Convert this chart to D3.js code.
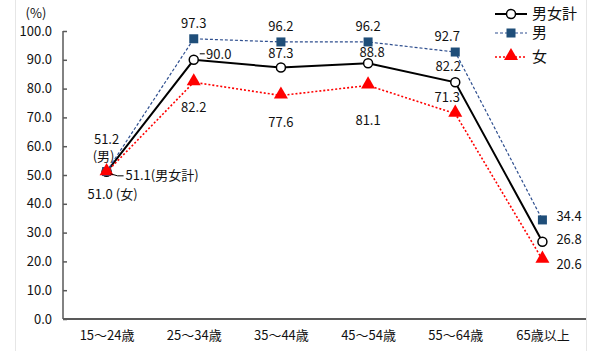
<!DOCTYPE html>
<html>
<head>
<meta charset="utf-8">
<script src="https://cdn.jsdelivr.net/npm/d3@7"></script>
<style>
  body { margin: 0; background: #fff; }
  svg text { font-family: "Noto Sans CJK JP", "DejaVu Sans", sans-serif; fill: #111; }
</style>
</head>
<body>
<div id="chart"></div>
<script>
// Data
const categories = ["15～24歳", "25～34歳", "35～44歳", "45～54歳", "55～64歳", "65歳以上"];
const totalValues = [51.1, 90.0, 87.3, 88.8, 82.2, 26.8];
const maleValues = [51.2, 97.3, 96.2, 96.2, 92.7, 34.4];
const femaleValues = [51.0, 82.2, 77.6, 81.1, 71.3, 20.6];
const yTicks = [0, 10, 20, 30, 40, 50, 60, 70, 80, 90, 100];
const seriesNames = ["男女計", "男", "女"];

const width = 604, height = 351;
const plotLeft = 63, plotRight = 586, plotTop = 31, plotBottom = 319;

const svg = d3.select("#chart").append("svg")
    .attr("width", width)
    .attr("height", height);

// faint chart-area border lines
svg.append("line").attr("x1", 15.5).attr("x2", 15.5).attr("y1", 0).attr("y2", height)
    .style("stroke", "#e6e6e6");
svg.append("line").attr("x1", 586.5).attr("x2", 586.5).attr("y1", 0).attr("y2", height)
    .style("stroke", "#e6e6e6");

const x = d3.scalePoint().domain(categories).range([plotLeft, plotRight]).padding(0.5);
const y = d3.scaleLinear().domain([0, 100]).range([plotBottom, plotTop]);

// y axis
const yAxis = svg.append("g")
    .attr("transform", `translate(${plotLeft},0)`)
    .call(d3.axisLeft(y).tickValues(yTicks).tickSize(-4).tickPadding(11).tickFormat(d3.format(".1f")));
yAxis.selectAll("path, line").style("stroke", "#595959").style("stroke-width", 1.5);
yAxis.select("path").attr("d", `M0,${plotTop}V${plotBottom}`);
yAxis.selectAll("text").style("font-size", "13px").style("fill", "#111");

// x axis
const xAxis = svg.append("g")
    .attr("transform", `translate(0,${plotBottom})`)
    .call(d3.axisBottom(x).tickSize(0).tickPadding(12));
xAxis.select("path").attr("d", `M${plotLeft},0H${plotRight}`).style("stroke", "#595959").style("stroke-width", 2);
xAxis.selectAll("text").style("font-size", "13px").style("fill", "#111");

svg.append("text").attr("x", 36).attr("y", 18).attr("text-anchor", "middle")
    .style("font-size", "13px").text("(%)");

const line = d3.line().x((d, i) => x(categories[i])).y(d => y(d));

const styles = [
  { values: totalValues, color: "#000", width: 2, dash: null },
  { values: maleValues, color: "#2f4f8f", width: 1.2, dash: "3,2" },
  { values: femaleValues, color: "#ff0000", width: 1.6, dash: "2,2" }
];

function marker(g, k) {
  if (k === 0) {
    g.append("circle").attr("r", 4.5).style("fill", "#fff").style("stroke", "#000").style("stroke-width", 1.5);
  } else if (k === 1) {
    g.append("rect").attr("x", -4.5).attr("y", -4.5).attr("width", 9).attr("height", 9).style("fill", "#1f4e79");
  } else {
    g.append("path").attr("d", d3.symbol().type(d3.symbolTriangle).size(85)()).attr("transform", "translate(0,-1)")
        .style("fill", "#ff0000");
  }
}

// series drawn in order: total, male, female
[0, 1, 2].forEach(k => {
  const s = styles[k];
  svg.append("path")
      .attr("d", line(s.values))
      .style("fill", "none")
      .style("stroke", s.color)
      .style("stroke-width", s.width)
      .style("stroke-dasharray", s.dash);
  s.values.forEach((v, i) => {
    const g = svg.append("g").attr("transform", `translate(${x(categories[i])},${y(v)})`);
    marker(g, k);
  });
});

// data labels: [dx, dy] offsets from point
const maleOffsets = [null, [0, -11], [0, -11], [0, -11], [-8, -11], [14, 1]];
const totalOffsets = [null, [25, -1], [0, -10], [4, -6], [-7, -11], [14, 2]];
const femaleOffsets = [null, [0, 30], [0, 31], [0, 40], [-8, -12], [14, 9]];

function labels(values, offsets) {
  values.forEach((v, i) => {
    const o = offsets[i];
    if (!o) return;
    svg.append("text")
        .attr("x", x(categories[i]) + o[0])
        .attr("y", y(v) + o[1])
        .attr("text-anchor", i === 5 ? "start" : "middle")
        .style("font-size", "13px")
        .text(d3.format(".1f")(v));
  });
}
labels(maleValues, maleOffsets);
labels(totalValues, totalOffsets);
labels(femaleValues, femaleOffsets);

// leader for 90.0
svg.append("line")
    .attr("x1", x(categories[1]) + 6).attr("x2", x(categories[1]) + 11)
    .attr("y1", y(totalValues[1]) - 6).attr("y2", y(totalValues[1]) - 6)
    .style("stroke", "#000");

// first-category labels
const x0 = x(categories[0]);
svg.append("text").attr("x", x0).attr("y", y(maleValues[0]) - 28).attr("text-anchor", "middle")
    .style("font-size", "13px").text(d3.format(".1f")(maleValues[0]));
svg.append("text").attr("x", x0 - 3).attr("y", y(maleValues[0]) - 11).attr("text-anchor", "middle")
    .style("font-size", "13px").text("(" + seriesNames[1] + ")");
svg.append("path")
    .attr("d", `M${x0 + 4},${y(totalValues[0]) + 2}L${x0 + 11},${y(totalValues[0]) + 4}H${x0 + 17}`)
    .style("fill", "none").style("stroke", "#000");
svg.append("text").attr("x", x0 + 19).attr("y", y(totalValues[0]) + 8)
    .style("font-size", "13px").text(d3.format(".1f")(totalValues[0]) + "(" + seriesNames[0] + ")");
svg.append("text").attr("x", x0 - 19).attr("y", y(femaleValues[0]) + 27)
    .style("font-size", "13px").text(d3.format(".1f")(femaleValues[0]) + " (" + seriesNames[2] + ")");

// legend
const legend = svg.append("g").attr("transform", "translate(495,14)");
seriesNames.forEach((name, k) => {
  const s = styles[k];
  const row = legend.append("g").attr("transform", `translate(0,${[0, 19, 43][k]})`);
  row.append("line").attr("x1", 0).attr("x2", 32).attr("y1", 0).attr("y2", 0)
      .style("stroke", s.color).style("stroke-width", s.width).style("stroke-dasharray", s.dash);
  const m = row.append("g").attr("transform", "translate(16,0)");
  marker(m, k);
  row.append("text").attr("x", 37).attr("y", 5).style("font-size", "15px").text(name);
});
</script>
</body>
</html>
